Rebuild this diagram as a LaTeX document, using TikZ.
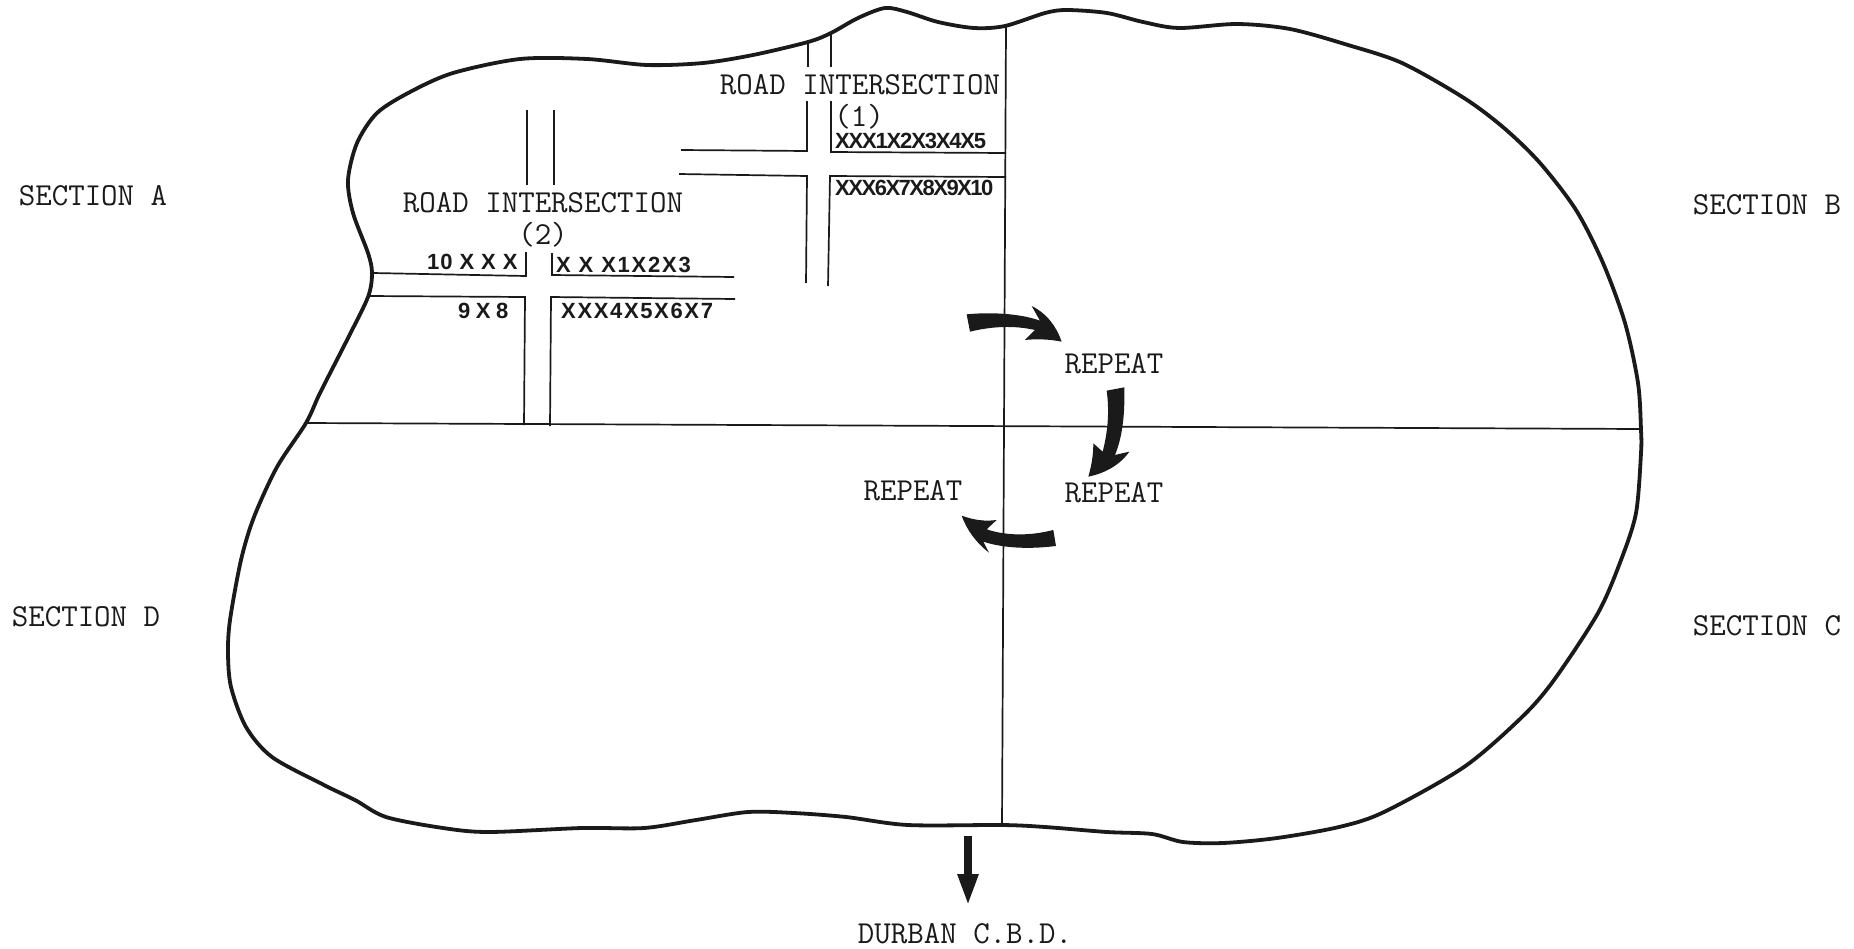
\documentclass[tikz,border=0pt]{standalone}
\usepackage{fontspec}
\usetikzlibrary{arrows.meta}
\newfontfamily\labsans{Liberation Sans}
\newcommand{\trk}[1]{\addfontfeature{LetterSpace=#1}}
\definecolor{ink}{HTML}{1A1A1A}
\tikzset{
  outline/.style={draw=ink,line width=3.8pt,line join=round},
  road/.style={draw=ink,line width=1.7pt},
  axis/.style={draw=ink,line width=1.7pt},
  typed/.style={text=ink,inner sep=0pt,font=\fontsize{32}{34}\selectfont\ttfamily\addfontfeature{FakeBold=1.6}},
  count/.style={text=ink,inner sep=0pt,font=\fontsize{22}{24}\selectfont\labsans\bfseries,anchor=west},
  curved/.style={fill=ink,draw=none}
}
\begin{document}
\begin{tikzpicture}[x=1pt,y=-1pt]
\useasboundingbox (0,0) rectangle (1854,948);
\fill[white] (0,0) rectangle (1854,948);
\draw[outline] plot[smooth cycle,tension=0.5] coordinates {
 (1005,26) (1045,13) (1067,10) (1107,13) (1143,22) (1179,28) (1237,24) (1290,29) (1348,45) (1402,63)
 (1464,98) (1504,128) (1540,163) (1576,210) (1603,263) (1625,323) (1638,383) (1641,430)
 (1641,453) (1636,513) (1621,560) (1598,613) (1554,680) (1522,717) (1464,767) (1384,812) (1339,827)
 (1277,838) (1223,843) (1183,842) (1152,834) (1107,832) (1045,827) (1002,825)
 (908,825) (846,817) (794,813) (748,812) (696,820) (644,828) (582,828) (489,832) (443,828)
 (386,817) (355,800) (324,785) (272,757) (246,727) (231,687) (228,653) (230,620) (241,560) (254,517) (277,467) (306,423)
 (320,393) (347,340) (368,297) (372,273) (368,253) (353,213) (348,180) (357,143) (377,113) (410,92) (453,73)
 (520,59) (587,59) (647,65) (703,63) (753,55) (808,42) (831,33) (858,18) (885,8) (907,12) (938,22) (974,28)};
\coordinate (vtop) at (1006,26);
\coordinate (vbot) at (1002,825);
\coordinate (hleft) at (306,423);
\coordinate (hright) at (1641,429);
\draw[axis] (vtop) -- (vbot);
\draw[axis] (hleft) -- (hright);
% road intersection 1
\draw[road] (808,44) -- (808,67);
\draw[road] (831,34) -- (831,67);
\draw[road] (807,101) -- (807,151) -- (681,150);
\draw[road] (831,101) -- (831,152) -- (1006,153);
\draw[road] (679,174) -- (807,176) -- (806,283);
\draw[road] (1006,177) -- (830,176) -- (828,286);
% road intersection 2
\draw[road] (527,110) -- (527,185);
\draw[road] (554,110) -- (554,185);
\draw[road] (373,273) -- (526,276) -- (526,252);
\draw[road] (552,253) -- (552,275) -- (734,277);
\draw[road] (369,296) -- (525,297) -- (524,425);
\draw[road] (735,299) -- (551,297) -- (550,426);
% labels
\node[typed] (secA) at (93,196) {SECTION A};
\node[typed] (secB) at (1767,205) {SECTION B};
\node[typed] (secC) at (1767,626) {SECTION C};
\node[typed] (secD) at (86,617) {SECTION D};
\node[typed] (int1) at (860,85) {ROAD INTERSECTION};
\node[typed] (num1) at (859,117) {(1)};
\node[typed] (int2) at (543,203) {ROAD INTERSECTION};
\node[typed] (num2) at (543,235) {(2)};
\node[typed] (rep1) at (1114,364) {REPEAT};
\node[typed] (rep2) at (1114,493) {REPEAT};
\node[typed] (rep3) at (913,491) {REPEAT};
\node[typed] (durban) at (965,934) {DURBAN C.B.D.};
\node[count] (c1) at (835,141) {\trk{-5.4}XXX1X2X3X4X5};
\node[count] (c2) at (835,188) {\trk{-6.8}XXX6X7X8X9X10};
\node[count] (c3) at (427,262) {\trk{4}10 X X X};
\node[count] (c4) at (556,265) {\trk{8}X X X1X2X3};
\node[count] (c5) at (458,311) {\trk{25}9X8};
\node[count] (c6) at (561,311) {\trk{7.5}XXX4X5X6X7};
\coordinate (dtop) at (968,836);
\coordinate (dtip) at (968,906);
\draw[draw=ink,line width=8pt,-{Triangle[length=32pt,width=19pt]}] (dtop) -- (dtip);
\begin{scope}[shift={(840,280)},x=0.3333pt,y=-0.3333pt]
\fill[curved] (380,103) .. controls (450,96) and (540,100) .. (600,122)
  -- (575,78) .. controls (620,100) and (650,140) .. (665,185)
  .. controls (630,178) and (590,176) .. (555,180) -- (585,150)
  .. controls (520,135) and (450,140) .. (390,155) -- cycle;
\fill[curved] (800,332) -- (853,322) .. controls (855,400) and (848,470) .. (825,525)
  -- (868,515) .. controls (840,555) and (795,580) .. (745,590)
  .. controls (755,555) and (760,525) .. (760,490) -- (788,515)
  .. controls (805,450) and (808,390) .. (800,332) -- cycle;
\fill[curved] (640,750) -- (648,798) .. controls (570,808) and (490,805) .. (430,785)
  -- (447,818) .. controls (410,790) and (380,750) .. (365,707)
  .. controls (400,720) and (435,725) .. (470,720) -- (440,748)
  .. controls (500,768) and (570,768) .. (640,750) -- cycle;
\end{scope}
\end{tikzpicture}
\end{document}
